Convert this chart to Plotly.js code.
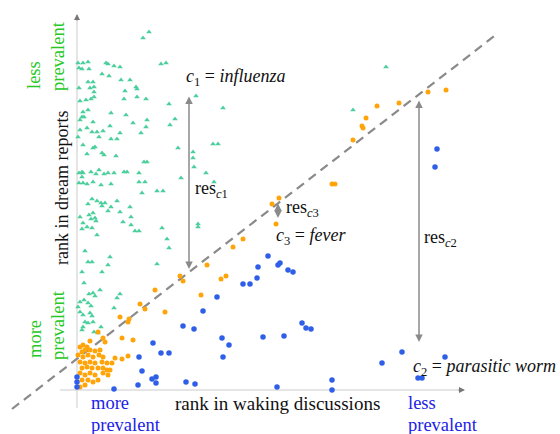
<!DOCTYPE html>
<html>
<head>
<meta charset="utf-8">
<script src="https://cdn.plot.ly/plotly-3.0.1.min.js"></script>
<style>html,body{margin:0;padding:0;background:#fff;}#chart{width:560px;height:434px;}</style>
</head>
<body>
<div id="chart"></div>
<script>
// Ranks (larger = less prevalent). x: rank in waking discussions, y: rank in dream reports
const greenX = [72,66,84,89,1,6,11,29,31,37,43,2,5,12,25,32,11,16,44,53,13,17,17,48,59,60,2,3,9,14,17,47,60,69,119,92,146,6,11,5,7,34,49,70,98,3,16,56,69,93,33,3,10,15,20,26,43,64,1,22,34,40,6,16,18,101,136,141,
  10,25,27,39,116,116,67,70,117,2,5,6,14,19,22,27,31,37,47,50,62,129,5,2,6,10,16,24,34,62,68,104,137,65,80,86,15,20,24,28,11,25,34,40,43,31,53,3,12,16,18,19,6,14,54,46,5,10,15,54,58,62,85,121,121,20,90,92,8,11,15,33,31,80,5,25,
  7,23,12,16,18,43,40,3,7,11,14,1,3,6,13,15,8,11,16,6,5,17,21,24,37,309,276];
const greenY = [358,352,326,327,327,327,328,327,326,324,323,322,321,321,316,314,308,308,310,310,302,303,298,299,303,301,302,289,290,291,293,291,293,291,294,286,282,278,280,273,273,277,275,270,271,270,268,267,263,265,264,260,262,258,258,259,257,257,253,253,251,251,245,242,243,242,246,246,
  236,237,235,234,238,232,228,228,223,217,218,217,218,216,220,216,217,217,218,218,217,217,213,207,207,206,208,205,206,208,208,212,208,197,199,199,191,189,187,187,186,184,183,189,178,179,183,173,175,177,172,169,167,171,173,168,161,163,162,165,159,159,162,166,163,155,151,142,139,128,128,133,125,126,118,118,
  107,100,96,97,94,96,92,88,90,87,84,83,78,75,77,74,68,67,68,63,60,58,57,63,82,323,280];

const orangeX = [351,369,322,300,289,285,286,276,255,258,202,195,199,166,156,130,144,149,124,103,106,78,63,68,88,43,52,51,21,26,28,13,45,56,
  6,3,10,5,8,13,18,23,1,6,11,16,22,26,38,45,51,3,8,13,18,25,30,35,5,10,15,21,26,30,33,3,8,13,18,26,31,5,11,21,8,16,3];
const orangeY = [298,300,287,284,272,264,262,250,206,206,192,186,166,151,143,125,111,114,95,114,109,100,86,81,78,73,71,68,58,52,48,49,52,50,
  45,43,43,38,40,40,39,40,35,33,35,33,35,33,32,31,34,28,27,28,27,28,27,27,22,23,22,22,22,20,20,17,15,17,15,17,15,10,10,10,5,8,3];

const blueX = [360,358,325,305,368,341,345,255,255,191,181,201,203,211,216,180,166,173,140,126,117,145,152,146,186,207,225,229,234,118,200,0,0,0,37,61,75,79,79,65,62,84,92,76,106,109];
const blueY = [241,223,38,27,33,12,12,10,0,134,123,125,127,120,118,112,106,106,93,79,61,52,45,33,53,54,67,62,61,6,3,13,8,3,1,5,11,13,7,19,33,37,37,47,64,8];

// reference (dashed) line ends
const diagX = [-65, 420];
const diagY = [-19, 356];

// residual arrows: [x, top y, bottom y]
const resArrows = [[112, 295, 121], [201, 188, 172], [342, 291, 48]];

const serif = "Liberation Serif";
const traces = [
  {x: diagX, y: diagY, mode: 'lines', line: {color: '#8a8a8a', width: 2.2, dash: '9px,6px'}, hoverinfo: 'skip'},
  {x: greenX, y: greenY, mode: 'markers', marker: {symbol: 'triangle-up', size: 5, color: '#4ccf9c'}},
  {x: orangeX, y: orangeY, mode: 'markers', marker: {symbol: 'circle', size: 5, color: '#ffa50a'}},
  {x: blueX, y: blueY, mode: 'markers', marker: {symbol: 'circle', size: 5.5, color: '#2f5fe6'}}
];

const ann = [];
function txt(x, y, text, opts) {
  ann.push(Object.assign({x: x, y: y, xref: 'x', yref: 'y', text: text, showarrow: false,
    xanchor: 'left', yanchor: 'middle', font: {family: serif, size: 18, color: '#111'}}, opts || {}));
}
// residual arrows
resArrows.forEach(r => {
  ann.push({x: r[0], y: r[2], ax: r[0], ay: r[1], xref: 'x', yref: 'y', axref: 'x', ayref: 'y', text: '',
    showarrow: true, arrowhead: 2, startarrowhead: 2, arrowside: 'end+start', arrowsize: 1, arrowwidth: 1.5, arrowcolor: '#8a8a8a', standoff: 0, startstandoff: 0});
});
// axis arrowheads
ann.push({x: 388, y: 0, ax: 380, ay: 0, xref: 'x', yref: 'y', axref: 'x', ayref: 'y', text: '', showarrow: true, arrowhead: 2, arrowsize: 1, arrowwidth: 1.2, arrowcolor: '#777'});
ann.push({x: 0, y: 376, ax: 0, ay: 368, xref: 'x', yref: 'y', axref: 'x', ayref: 'y', text: '', showarrow: true, arrowhead: 2, arrowsize: 1, arrowwidth: 1.2, arrowcolor: '#777'});

txt(107, 313, '<i>c</i><sub>1</sub> = <i>influenza</i>');
txt(116, 201, 'res<sub><i>c</i>1</sub>');
txt(207, 182, 'res<sub><i>c</i>3</sub>');
txt(197, 154, '<i>c</i><sub>3</sub> = <i>fever</i>');
txt(345, 152, 'res<sub><i>c</i>2</sub>');
txt(334, 23, '<i>c</i><sub>2</sub> = <i>parasitic worm</i>');
txt(96, -13, 'rank in waking discussions', {font: {family: serif, size: 19, color: '#111'}});
const blueTxt = {font: {family: serif, size: 18.5, color: '#2121e6'}};
txt(12, -13, 'more', blueTxt);
txt(12, -35, 'prevalent', blueTxt);
txt(329, -13, 'less', blueTxt);
txt(329, -35, 'prevalent', blueTxt);
const rot = {textangle: -90, xanchor: 'center', yanchor: 'middle'};
txt(-15, 202, 'rank in dream reports', rot);
const greenTxt = Object.assign({}, rot, {font: {family: serif, size: 18.5, color: '#25c825'}});
txt(-43, 315, 'less', greenTxt);
txt(-19, 334, 'prevalent', greenTxt);
txt(-42, 51, 'more', greenTxt);
txt(-19, 65, 'prevalent', greenTxt);

const layout = {
  width: 560, height: 434,
  margin: {l: 0, r: 0, t: 0, b: 0, pad: 0},
  paper_bgcolor: '#fff', plot_bgcolor: '#fff',
  showlegend: false,
  font: {family: serif},
  xaxis: {range: [-77, 483], visible: false, fixedrange: true},
  yaxis: {range: [-44, 390], visible: false, fixedrange: true},
  shapes: [
    {type: 'line', xref: 'x', yref: 'y', x0: -17, y0: 0, x1: 386, y1: 0, line: {color: '#dcdcdc', width: 1.5}, layer: 'below'},
    {type: 'line', xref: 'x', yref: 'y', x0: 0, y0: -18, x1: 0, y1: 374, line: {color: '#dcdcdc', width: 1.5}, layer: 'below'}
  ],
  annotations: ann
};
Plotly.newPlot('chart', traces, layout, {displayModeBar: false, staticPlot: true});
</script>
</body>
</html>
